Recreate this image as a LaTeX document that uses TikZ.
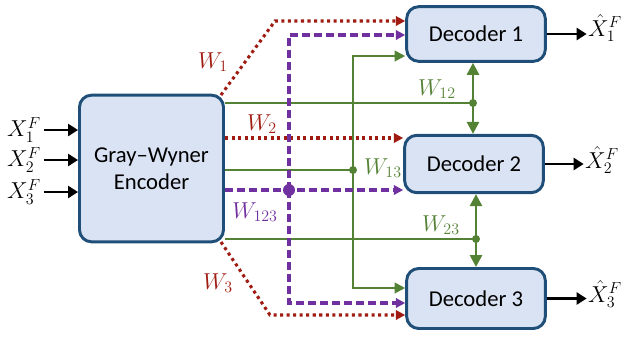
\documentclass[tikz,border=0pt]{standalone}
\usepackage{fontspec}
\setmainfont{Carlito}
\usetikzlibrary{arrows.meta}

\definecolor{boxfill}{RGB}{218,227,243}
\definecolor{boxline}{RGB}{31,78,121}
\definecolor{wred}{RGB}{160,28,18}
\definecolor{wpurple}{RGB}{112,48,160}
\definecolor{wgreen}{RGB}{84,130,53}

\begin{document}
\begin{tikzpicture}[x=0.75pt, y=-0.75pt,
  codebox/.style={draw=boxline, fill=boxfill, line width=2.2pt, rounded corners=9pt,
    align=center, inner sep=0pt, font=\fontsize{17}{20}\selectfont},
  lab/.style={inner sep=0pt, font=\fontsize{18.5}{21}\selectfont},
  blkarrow/.style={draw=black, line width=2.2pt, -{Triangle[length=7.5pt,width=9pt]}},
  wdot/.style={draw=wred, line width=2.3pt, dash pattern=on 2.3pt off 2.6pt,
    -{Triangle[length=7pt,width=7pt]}},
  wdash/.style={draw=wpurple, line width=2.3pt, dash pattern=on 6pt off 3pt,
    -{Triangle[length=7pt,width=7pt]}},
  wline/.style={draw=wgreen, line width=1.6pt},
  wtip/.style={-{Triangle[length=8pt,width=8pt]}},
  wboth/.style={line width=2pt, {Triangle[length=9pt,width=9pt]}-{Triangle[length=9pt,width=9pt]}}
  ]
  \useasboundingbox (0,0) rectangle (626,337);

  % Encoder and decoders
  \node[codebox, minimum width=108pt, minimum height=110pt] (enc) at (151.5,168.5) {Gray--Wyner\\Encoder};
  \node[codebox, minimum width=104pt, minimum height=41pt] (dec1) at (476,34) {Decoder 1};
  \node[codebox, minimum width=104pt, minimum height=43pt] (dec2) at (474,164) {Decoder 2};
  \node[codebox, minimum width=104pt, minimum height=45pt] (dec3) at (476,298.5) {Decoder 3};

  % Sources
  \node[lab] (x1) at (24,130) {$X_1^F$};
  \node[lab] (x2) at (24,160) {$X_2^F$};
  \node[lab] (x3) at (24,192) {$X_3^F$};
  \draw[blkarrow] ([xshift=2pt]x1.east) -- (x1.east -| enc.west);
  \draw[blkarrow] ([xshift=2pt]x2.east) -- (x2.east -| enc.west);
  \draw[blkarrow] ([xshift=2pt]x3.east) -- (x3.east -| enc.west);

  % Reconstructions
  \node[lab] (xh1) at (605,28) {$\hat{X}_1^F$};
  \node[lab] (xh2) at (602,160) {$\hat{X}_2^F$};
  \node[lab] (xh3) at (605,294) {$\hat{X}_3^F$};
  \draw[blkarrow] (dec1.east) -- ([xshift=-1pt]dec1.east -| xh1.west);
  \draw[blkarrow] (dec2.east) -- ([xshift=-1pt]dec2.east -| xh2.west);
  \draw[blkarrow] (dec3.east) -- ([xshift=-1pt]dec3.east -| xh3.west);

  % Pairwise common parts (green)
  \coordinate (j12) at (473,103);
  \coordinate (j13) at (353,170);
  \coordinate (j13top) at (353,56);
  \coordinate (j13bot) at (353,288);
  \coordinate (j23) at (476,239);
  \draw[wline] (enc.east |- j12) -- (j12);
  \draw[wline, wboth] (dec1.south -| j12) -- (dec2.north -| j12);
  \fill[wgreen] (j12) circle (3pt);
  \draw[wline] (enc.east |- j13) -- (j13);
  \draw[wline, wtip] (j13) -- (j13top) -- (j13top -| dec1.west);
  \draw[wline, wtip] (j13) -- (j13bot) -- (j13bot -| dec3.west);
  \fill[wgreen] (j13) circle (3pt);
  \draw[wline] (enc.east |- j23) -- (j23);
  \draw[wline, wboth] (dec2.south -| j23) -- (dec3.north -| j23);
  \fill[wgreen] (j23) circle (3pt);

  % Private parts (red)
  \coordinate (w1bend) at (275,21);
  \coordinate (w2line) at (0,138);
  \coordinate (w3bend) at (270,315);
  \draw[wdot] ([xshift=-3pt,yshift=-1pt]enc.north east) -- (w1bend) -- (w1bend -| dec1.west);
  \draw[wdot] (enc.east |- w2line) -- (w2line -| dec2.west);
  \draw[wdot] ([xshift=-3pt,yshift=1pt]enc.south east) -- (w3bend) -- (w3bend -| dec3.west);

  % Common part of all three (purple)
  \coordinate (c123) at (289,190);
  \coordinate (c123top) at (289,35);
  \coordinate (c123bot) at (289,303);
  \draw[wdash] (enc.east |- c123) -- (c123 -| dec2.west);
  \draw[wdash] (c123) -- (c123top) -- (c123top -| dec1.west);
  \draw[wdash] (c123) -- (c123bot) -- (c123bot -| dec3.west);
  \fill[wpurple] (c123) circle (4.5pt);

  % Message labels
  \node[lab, text=wred] (lw1) at (213,62) {$W_1$};
  \node[lab, text=wred] (lw2) at (262,124) {$W_2$};
  \node[lab, text=wred] (lw3) at (218,283) {$W_3$};
  \node[lab, text=wpurple] (lw123) at (255,212) {$W_{123}$};
  \node[lab, text=wgreen] (lw12) at (437,89) {$W_{12}$};
  \node[lab, text=wgreen] (lw13) at (383,168) {$W_{13}$};
  \node[lab, text=wgreen] (lw23) at (441,225) {$W_{23}$};

\end{tikzpicture}
\end{document}
